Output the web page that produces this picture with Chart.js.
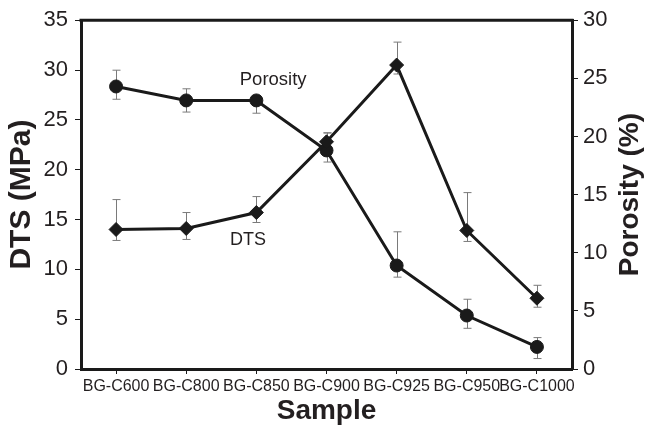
<!DOCTYPE html>
<html>
<head>
<meta charset="utf-8">
<script src="https://cdn.jsdelivr.net/npm/chart.js@4/dist/chart.umd.min.js"></script>
<style>
html,body{margin:0;padding:0;background:#fff;}
#wrap{width:645px;height:428px;position:relative;}
</style>
</head>
<body>
<div id="wrap"><canvas id="c" width="645" height="428"></canvas></div>
<script>
const categories = ['BG-C600','BG-C800','BG-C850','BG-C900','BG-C925','BG-C950','BG-C1000'];
const dtsValues = [14.0, 14.1, 15.7, 22.8, 30.5, 13.9, 7.1];
const dtsErrPlus = [3.0, 1.6, 1.6, 0.9, 2.3, 3.8, 1.3];
const dtsErrMinus = [1.1, 1.1, 1.0, 0.9, 0.9, 1.1, 0.9];
const porosityValues = [24.3, 23.1, 23.1, 18.8, 8.9, 4.6, 1.9];
const porErrPlus = [1.4, 1.0, 0.4, 1.5, 2.9, 1.4, 0.8];
const porErrMinus = [1.1, 1.0, 1.1, 1.0, 1.0, 1.1, 1.0];
const leftTicks = [0,5,10,15,20,25,30,35];
const rightTicks = [0,5,10,15,20,25,30];

const FONT = "'Liberation Sans', Arial, sans-serif";
const INK = '#231f20';

const errorBars = {
  id: 'errorBars',
  beforeDatasetsDraw(chart) {
    const ctx = chart.ctx;
    const x = chart.scales.x;
    const sets = [
      {scale: chart.scales.y, v: dtsValues, p: dtsErrPlus, m: dtsErrMinus},
      {scale: chart.scales.y1, v: porosityValues, p: porErrPlus, m: porErrMinus}
    ];
    ctx.save();
    ctx.strokeStyle = '#7a7a7a';
    ctx.lineWidth = 1;
    sets.forEach(s => {
      s.v.forEach((v, i) => {
        const px = Math.round(x.getPixelForValue(i)) + 0.5;
        const top = s.scale.getPixelForValue(v + s.p[i]);
        const bot = s.scale.getPixelForValue(v - s.m[i]);
        ctx.beginPath();
        ctx.moveTo(px, top); ctx.lineTo(px, bot);
        ctx.moveTo(px - 4, top); ctx.lineTo(px + 4, top);
        ctx.moveTo(px - 4, bot); ctx.lineTo(px + 4, bot);
        ctx.stroke();
      });
    });
    ctx.restore();
  },
  afterDraw(chart) {
    const ctx = chart.ctx;
    const a = chart.chartArea;
    ctx.save();
    // top frame line
    ctx.strokeStyle = '#1a1a1a';
    ctx.lineWidth = 3;
    ctx.beginPath();
    ctx.moveTo(a.left - 1.5, a.top);
    ctx.lineTo(a.right + 1.5, a.top);
    ctx.stroke();
    // series labels
    const x = chart.scales.x;
    ctx.fillStyle = INK;
    ctx.font = '18.5px ' + FONT;
    ctx.textAlign = 'center';
    ctx.textBaseline = 'middle';
    ctx.fillText('Porosity', x.getPixelForValue(2.24), chart.scales.y1.getPixelForValue(24.85));
    ctx.font = '18px ' + FONT;
    ctx.fillText('DTS', x.getPixelForValue(1.88), chart.scales.y.getPixelForValue(12.95));
    // right axis title (reads bottom to top)
    ctx.font = 'bold 28px ' + FONT;
    ctx.translate(630, (a.top + a.bottom) / 2);
    ctx.rotate(-Math.PI / 2);
    ctx.fillText('Porosity (%)', 0, 0);
    ctx.restore();
  }
};

new Chart(document.getElementById('c'), {
  type: 'line',
  data: {
    labels: categories,
    datasets: [
      {
        label: 'DTS',
        data: dtsValues,
        yAxisID: 'y',
        borderColor: '#1a1a1a',
        backgroundColor: '#1a1a1a',
        borderWidth: 3,
        pointStyle: 'rectRot',
        pointRadius: 7,
        pointBorderWidth: 1,
        tension: 0
      },
      {
        label: 'Porosity',
        data: porosityValues,
        yAxisID: 'y1',
        borderColor: '#1a1a1a',
        backgroundColor: '#1a1a1a',
        borderWidth: 3,
        pointStyle: 'circle',
        pointRadius: 6.5,
        pointBorderWidth: 1,
        tension: 0
      }
    ]
  },
  options: {
    responsive: false,
    animation: false,
    layout: {padding: {top: 20, left: 0, right: 0, bottom: 0}},
    plugins: {legend: {display: false}, tooltip: {enabled: false}},
    scales: {
      x: {
        type: 'category',
        offset: true,
        grid: {display: true, drawOnChartArea: false, offset: false, tickLength: 5, color: '#1a1a1a', lineWidth: 1},
        border: {display: true, color: '#1a1a1a', width: 3},
        ticks: {color: INK, font: {family: FONT, size: 16}, padding: 3, maxRotation: 0, minRotation: 0, autoSkip: false},
        title: {display: true, text: 'Sample', color: INK, font: {family: FONT, size: 28, weight: 'bold'}, padding: {top: 0, bottom: 0}},
        afterFit(s) { s.height = 59; }
      },
      y: {
        position: 'left',
        min: 0, max: 35,
        afterBuildTicks(s) { s.ticks = leftTicks.map(v => ({value: v})); },
        grid: {display: true, drawOnChartArea: false, tickLength: 6, color: '#1a1a1a'},
        border: {display: true, color: '#1a1a1a', width: 3},
        ticks: {color: INK, font: {family: FONT, size: 22}, padding: 7},
        title: {display: true, text: 'DTS (MPa)', color: INK, font: {family: FONT, size: 30, weight: 'bold'}, padding: {top: 4, bottom: 0}},
        afterFit(s) { s.width = 81; }
      },
      y1: {
        position: 'right',
        min: 0, max: 30,
        afterBuildTicks(s) { s.ticks = rightTicks.map(v => ({value: v})); },
        grid: {display: true, drawOnChartArea: false, tickLength: 6, color: '#1a1a1a'},
        border: {display: true, color: '#1a1a1a', width: 3},
        ticks: {color: INK, font: {family: FONT, size: 22}, padding: 5},
        afterFit(s) { s.width = 73; }
      }
    }
  },
  plugins: [errorBars]
});
</script>
</body>
</html>
